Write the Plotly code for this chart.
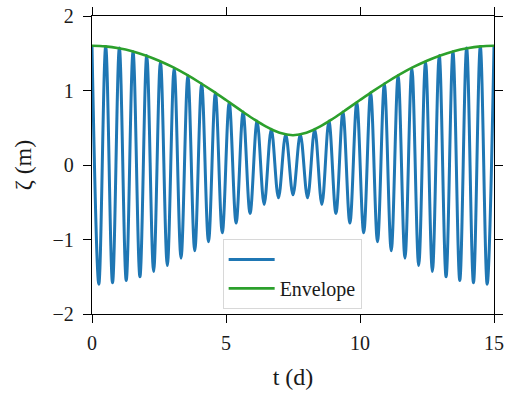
import plotly.graph_objects as go

# Extrema of the surface elevation (peaks and troughs)
t_days = [0, 0.255, 0.511, 0.766, 1.021, 1.277, 1.532, 1.788, 2.043, 2.299,
          2.554, 2.810, 3.066, 3.322, 3.578, 3.834, 4.091, 4.347, 4.604, 4.862,
          5.120, 5.378, 5.638, 5.898, 6.160, 6.423, 6.690, 6.957, 7.228, 7.500,
          7.772, 8.043, 8.310, 8.577, 8.840, 9.102, 9.362, 9.622, 9.880, 10.138,
          10.396, 10.653, 10.909, 11.166, 11.422, 11.678, 11.934, 12.190, 12.446, 12.701,
          12.957, 13.212, 13.468, 13.723, 13.979, 14.234, 14.489, 14.745, 15.0]
zeta = [1.60, -1.60, 1.59, -1.58, 1.57, -1.55, 1.52, -1.50, 1.47, -1.43,
        1.39, -1.35, 1.30, -1.25, 1.20, -1.15, 1.09, -1.03, 0.97, -0.91,
        0.84, -0.78, 0.71, -0.65, 0.59, -0.53, 0.48, -0.44, 0.41, -0.40,
        0.41, -0.44, 0.48, -0.53, 0.59, -0.65, 0.71, -0.78, 0.84, -0.91,
        0.97, -1.03, 1.09, -1.15, 1.20, -1.25, 1.30, -1.35, 1.39, -1.43,
        1.47, -1.50, 1.52, -1.55, 1.57, -1.58, 1.59, -1.60, 1.60]

# Envelope
t_env = [0, 0.5, 1, 1.5, 2, 2.5, 3, 3.5, 4, 4.5, 5, 5.5, 6, 6.5, 7, 7.5,
         8, 8.5, 9, 9.5, 10, 10.5, 11, 11.5, 12, 12.5, 13, 13.5, 14, 14.5, 15]
envelope = [1.600, 1.592, 1.567, 1.527, 1.471, 1.400, 1.316, 1.219, 1.111, 0.995,
            0.872, 0.746, 0.624, 0.514, 0.432, 0.400, 0.432, 0.514, 0.624, 0.746,
            0.872, 0.995, 1.111, 1.219, 1.316, 1.400, 1.471, 1.527, 1.567, 1.592, 1.600]

x_ticks = [0, 5, 10, 15]
y_ticks = [-2, -1, 0, 1, 2]

FONT = "Liberation Serif"

fig = go.Figure()
fig.add_trace(go.Scatter(x=t_days, y=zeta, mode="lines", name="",
                         line=dict(color="#1f77b4", width=3, shape="spline", smoothing=1)))
fig.add_trace(go.Scatter(x=t_env, y=envelope, mode="lines", name="Envelope",
                         line=dict(color="#2ca02c", width=2.6, shape="spline", smoothing=1)))

axis_common = dict(showline=True, linecolor="black", linewidth=1.4, mirror="ticks",
                   ticks="outside", ticklen=8, tickwidth=1.4, tickcolor="black",
                   showgrid=False, zeroline=False, automargin=False,
                   tickfont=dict(family=FONT, size=20, color="#1a1a1a"))

fig.update_layout(
    width=506, height=394,
    margin=dict(l=92, r=12, t=16, b=80),
    plot_bgcolor="white", paper_bgcolor="white",
    xaxis=dict(range=[0, 15], tickvals=x_ticks, ticklabelstandoff=3,
               title=dict(text="t (d)", font=dict(family=FONT, size=24, color="#1a1a1a"), standoff=14),
               **axis_common),
    yaxis=dict(range=[-2, 2], tickvals=y_ticks, ticklabelstandoff=5,
               title=dict(text="ζ (m)", font=dict(family=FONT, size=24, color="#1a1a1a"), standoff=14),
               **axis_common),
    legend=dict(x=0.325, y=0.252, xanchor="left", yanchor="top",
                bgcolor="rgba(255,255,255,0.85)", bordercolor="#d8d8d8", borderwidth=1,
                font=dict(family=FONT, size=20, color="#1a1a1a"),
                itemwidth=46, entrywidth=100),
    showlegend=True,
)

fig.write_html("out.html")
